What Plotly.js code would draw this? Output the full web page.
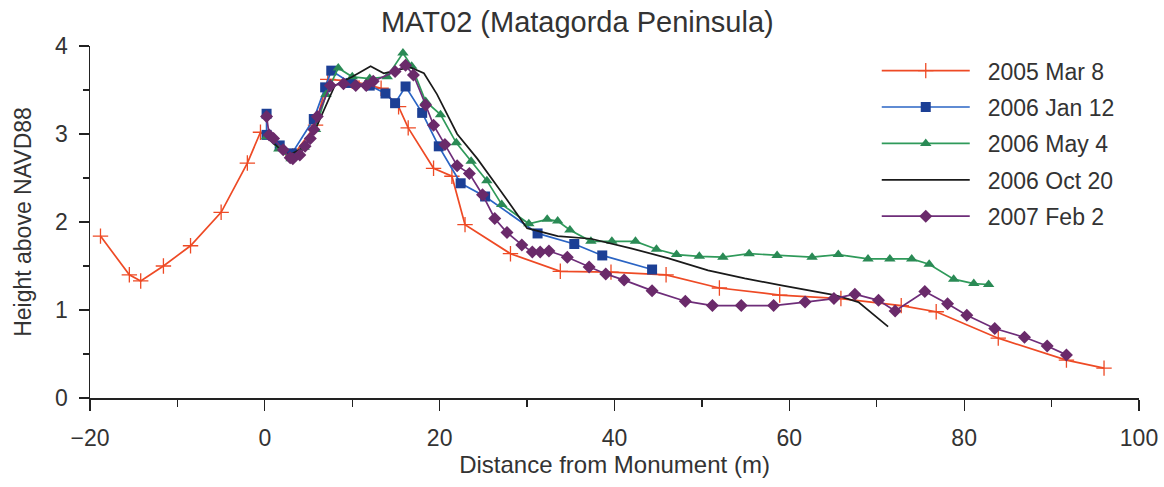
<!DOCTYPE html>
<html>
<head>
<meta charset="utf-8">
<script src="https://cdn.plot.ly/plotly-3.0.1.min.js"></script>
<style>html,body{margin:0;padding:0;background:#fff;}#chart{width:1164px;height:487px;}</style>
</head>
<body>
<div id="chart"></div>
<script>
// 2005 Mar 8
const marX = [-18.8, -15.5, -14.2, -11.6, -8.5, -5.0, -2.0, -0.5, 3.2, 5.8, 7.2, 10.0, 13.3, 15.3, 16.4, 19.3, 21.4, 22.9, 28.1, 33.8, 39.6, 45.9, 52.0, 58.9, 65.9, 72.8, 76.8, 83.9, 91.7, 96.0];
const marY = [1.84, 1.40, 1.33, 1.50, 1.73, 2.11, 2.67, 3.02, 2.75, 3.10, 3.62, 3.60, 3.52, 3.31, 3.07, 2.61, 2.52, 1.97, 1.64, 1.44, 1.43, 1.40, 1.25, 1.17, 1.13, 1.05, 0.98, 0.68, 0.43, 0.34];
// 2006 Jan 12
const janX = [0.2, 0.2, 1.7, 3.1, 5.6, 6.9, 7.6, 9.8, 12.0, 13.8, 14.9, 16.1, 18.0, 19.9, 22.4, 25.2, 31.2, 35.4, 38.6, 44.3];
const janY = [3.23, 2.99, 2.87, 2.78, 3.17, 3.53, 3.72, 3.58, 3.55, 3.46, 3.35, 3.54, 3.24, 2.86, 2.44, 2.29, 1.87, 1.75, 1.62, 1.46];
// 2006 May 4
const mayX = [0.2, 1.6, 3.0, 4.5, 5.8, 7.0, 8.4, 10.0, 12.0, 14.0, 15.8, 16.8, 18.4, 20.1, 21.9, 23.6, 25.4, 27.1, 30.2, 32.3, 33.5, 34.9, 37.3, 39.7, 42.4, 44.8, 47.1, 49.7, 52.4, 55.4, 58.6, 62.6, 65.6, 69.0, 71.5, 74.0, 76.0, 78.8, 81.1, 82.8];
const mayY = [2.97, 2.83, 2.72, 2.85, 3.05, 3.45, 3.75, 3.65, 3.63, 3.65, 3.92, 3.77, 3.37, 3.22, 2.90, 2.69, 2.47, 2.20, 1.98, 2.03, 2.01, 1.91, 1.78, 1.78, 1.78, 1.69, 1.63, 1.61, 1.60, 1.64, 1.62, 1.60, 1.63, 1.58, 1.58, 1.58, 1.52, 1.35, 1.30, 1.29];
// 2006 Oct 20
const octX = [0.2, 1.5, 2.8, 4.5, 6.0, 8.0, 10.0, 12.1, 13.6, 15.0, 16.6, 18.2, 19.7, 22.0, 24.3, 27.0, 30.0, 33.5, 37.3, 41.9, 46.1, 50.7, 54.9, 59.1, 65.2, 67.9, 71.3];
const octY = [2.97, 2.85, 2.76, 2.85, 3.10, 3.55, 3.65, 3.77, 3.69, 3.72, 3.76, 3.69, 3.45, 3.00, 2.72, 2.35, 1.93, 1.84, 1.81, 1.70, 1.59, 1.45, 1.36, 1.28, 1.17, 1.09, 0.81];
// 2007 Feb 2
const febX = [0.2, 0.5, 1.0, 2.1, 2.9, 3.2, 4.0, 4.6, 5.2, 5.6, 6.0, 7.5, 9.0, 10.4, 11.6, 12.4, 14.9, 16.1, 17.0, 18.4, 19.3, 20.6, 22.0, 23.4, 24.9, 26.3, 27.7, 29.4, 30.6, 31.5, 32.5, 34.6, 37.1, 39.0, 41.1, 44.3, 48.1, 51.2, 54.5, 58.2, 61.8, 65.1, 67.5, 70.2, 72.1, 75.5, 78.1, 80.3, 83.5, 86.9, 89.5, 91.7];
const febY = [3.20, 2.99, 2.95, 2.82, 2.73, 2.72, 2.76, 2.86, 2.95, 3.05, 3.20, 3.55, 3.57, 3.55, 3.55, 3.60, 3.71, 3.78, 3.67, 3.33, 3.10, 2.88, 2.64, 2.55, 2.31, 2.04, 1.88, 1.74, 1.66, 1.66, 1.67, 1.60, 1.49, 1.41, 1.34, 1.22, 1.10, 1.05, 1.05, 1.05, 1.09, 1.13, 1.18, 1.11, 0.99, 1.21, 1.07, 0.94, 0.79, 0.69, 0.59, 0.49];

const seriesNames = ['2005 Mar 8', '2006 Jan 12', '2006 May 4', '2006 Oct 20', '2007 Feb 2'];
const xTickVals = [-20, 0, 20, 40, 60, 80, 100];
const yTickVals = [0, 1, 2, 3, 4];

const FONT = 'Liberation Sans, Arial, sans-serif';
const TXT = '#333333';

const traces = [
  {x: marX, y: marY, name: seriesNames[0], legendgroup: 'a', mode: 'lines+markers',
   line: {color: '#ee4a25', width: 1.7},
   marker: {symbol: 'cross-thin', size: 11, line: {color: '#ee4a25', width: 1.3}}},
  {x: janX, y: janY, name: seriesNames[1], legendgroup: 'b', mode: 'lines+markers',
   line: {color: '#2a64c4', width: 1.7},
   marker: {symbol: 'square', size: 10, color: '#1c3f95'}},
  {x: mayX, y: mayY, name: seriesNames[2], legendgroup: 'c', mode: 'lines+markers',
   line: {color: '#2f9a5a', width: 1.7},
   marker: {symbol: 'triangle-up', size: 10, color: '#2a8a55'}},
  {x: octX, y: octY, name: seriesNames[3], legendgroup: 'd', mode: 'lines',
   line: {color: '#1a1a1a', width: 1.7}},
  {x: febX, y: febY, name: seriesNames[4], legendgroup: 'e', mode: 'lines+markers',
   line: {color: '#6e2d79', width: 1.7},
   marker: {symbol: 'diamond', size: 10, color: '#6a2a6a'}}
];

const layout = {
  width: 1164, height: 487,
  paper_bgcolor: '#ffffff', plot_bgcolor: '#ffffff',
  margin: {l: 90, r: 25, t: 46, b: 89},
  font: {family: FONT, color: TXT, size: 23},
  title: {text: 'MAT02 (Matagorda Peninsula)', x: 0.496, xanchor: 'center', y: 0.955, yanchor: 'middle',
          font: {family: FONT, size: 29, color: TXT}},
  showlegend: true,
  legend: {x: 0.750, y: 0.991, xanchor: 'left', yanchor: 'top', bgcolor: 'rgba(0,0,0,0)',
           font: {family: FONT, size: 23, color: TXT}, itemwidth: 101, tracegroupgap: 3.5},
  xaxis: {range: [-20, 100], tickvals: xTickVals, ticks: 'outside', ticklen: 11, tickwidth: 1.3,
          tickcolor: '#222', showline: true, linecolor: '#222', linewidth: 1.5, showgrid: false, zeroline: false,
          ticklabelstandoff: 8,
          minor: {dtick: 10, tick0: 0, ticks: 'outside', ticklen: 7, tickwidth: 1.3, tickcolor: '#222', showgrid: false},
          tickfont: {family: FONT, size: 23, color: TXT},
          title: {text: 'Distance from Monument (m)', standoff: 2, font: {family: FONT, size: 24, color: TXT}}},
  yaxis: {range: [0, 4], tickvals: yTickVals, ticks: 'outside', ticklen: 10, tickwidth: 1.3,
          tickcolor: '#222', showline: true, linecolor: '#222', linewidth: 1.5, showgrid: false, zeroline: false,
          ticklabelstandoff: 6,
          minor: {dtick: 0.5, tick0: 0, ticks: 'outside', ticklen: 6, tickwidth: 1.3, tickcolor: '#222', showgrid: false},
          tickfont: {family: FONT, size: 23, color: TXT},
          title: {text: 'Height above NAVD88', standoff: 17, font: {family: FONT, size: 23, color: TXT}}}
};

function stretchLegendSymbols() {
  const root = document.getElementById('chart');
  root.querySelectorAll('.legend .legendlines path').forEach(p => p.setAttribute('d', 'M5,0h88'));
  root.querySelectorAll('.legend .legendpoints path.scatterpts').forEach(p => p.setAttribute('transform', 'translate(49,0)'));
}

Plotly.newPlot('chart', traces, layout, {displayModeBar: false, staticPlot: true}).then(stretchLegendSymbols);
</script>
</body>
</html>
